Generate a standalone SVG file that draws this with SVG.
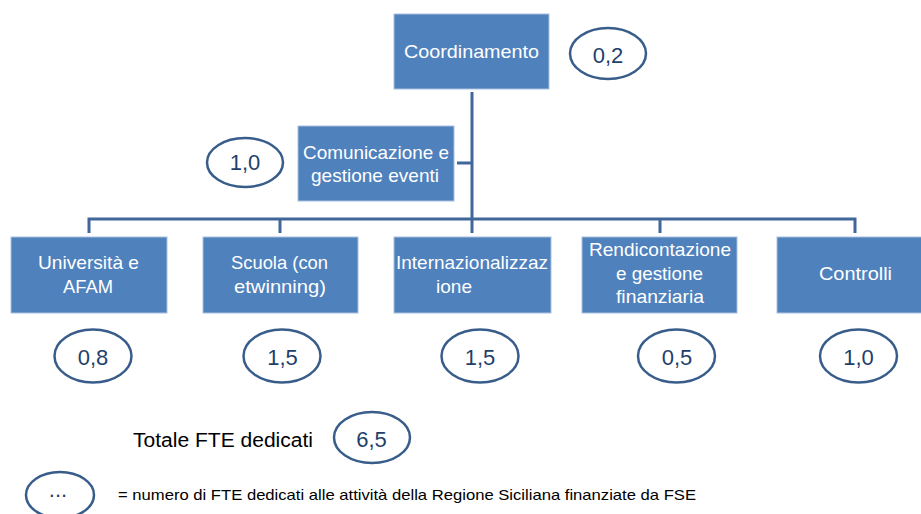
<svg xmlns="http://www.w3.org/2000/svg" width="921" height="514" viewBox="0 0 921 514">
<style>
.box{fill:#4F81BD;stroke:#A9C0DF;stroke-width:1}
.bt{font-family:"Liberation Sans",Arial,sans-serif;font-size:18.5px;fill:#FFFFFF;text-anchor:middle}
.ov{fill:#FFFFFF;stroke:#385D8A;stroke-width:2.5}
.ot{font-family:"Liberation Sans",Arial,sans-serif;font-size:22px;fill:#1F3F6B;text-anchor:middle}
.ln{stroke:#41679A;stroke-width:3;fill:none}
.lt{font-family:"Liberation Sans",Arial,sans-serif;fill:#000000}
</style>
<rect width="921" height="514" fill="#FFFFFF"/>
<g id="connectors">
<path class="ln" d="M472 92 V233"/>
<path class="ln" d="M457 163 H472"/>
<path class="ln" d="M89 233 V219 H855 V233"/>
<path class="ln" d="M280 219 V233"/>
<path class="ln" d="M660 219 V233"/>
</g>
<g id="coordinamento">
<rect class="box" x="394" y="14" width="155" height="75"/>
<text class="bt" x="471.5" y="58" textLength="135" lengthAdjust="spacingAndGlyphs">Coordinamento</text>
<ellipse class="ov" cx="608" cy="53.5" rx="38" ry="25.5"/>
<text class="ot" x="608" y="63">0,2</text>
</g>
<g id="comunicazione">
<rect class="box" x="298" y="126" width="156" height="75"/>
<text class="bt" x="376" y="159" textLength="146" lengthAdjust="spacingAndGlyphs">Comunicazione e</text>
<text class="bt" x="375" y="181.5" textLength="128" lengthAdjust="spacingAndGlyphs">gestione eventi</text>
<ellipse class="ov" cx="245" cy="162.5" rx="38" ry="24.5"/>
<text class="ot" x="245" y="170">1,0</text>
</g>
<g id="universita">
<rect class="box" x="11" y="237" width="156" height="76"/>
<text class="bt" x="88.5" y="269" textLength="101" lengthAdjust="spacingAndGlyphs">Università e</text>
<text class="bt" x="88" y="293" textLength="50" lengthAdjust="spacingAndGlyphs">AFAM</text>
<ellipse class="ov" cx="93" cy="356" rx="38.5" ry="26.5"/>
<text class="ot" x="93" y="365">0,8</text>
</g>
<g id="scuola">
<rect class="box" x="203" y="237" width="155" height="76"/>
<text class="bt" x="279.5" y="269" textLength="97" lengthAdjust="spacingAndGlyphs">Scuola (con</text>
<text class="bt" x="280" y="293" textLength="92" lengthAdjust="spacingAndGlyphs">etwinning)</text>
<ellipse class="ov" cx="282" cy="356" rx="38.5" ry="26.5"/>
<text class="ot" x="282.5" y="365">1,5</text>
</g>
<g id="internazionalizzazione">
<rect class="box" x="394" y="237" width="157" height="76"/>
<text class="bt" x="472" y="269" textLength="152" lengthAdjust="spacingAndGlyphs">Internazionalizzaz</text>
<text class="bt" x="454" y="293" textLength="36" lengthAdjust="spacingAndGlyphs">ione</text>
<ellipse class="ov" cx="480" cy="356" rx="38.5" ry="26.5"/>
<text class="ot" x="480" y="365">1,5</text>
</g>
<g id="rendicontazione">
<rect class="box" x="582" y="237" width="155" height="76"/>
<text class="bt" x="660" y="256" textLength="142" lengthAdjust="spacingAndGlyphs">Rendicontazione</text>
<text class="bt" x="659.5" y="280" textLength="87" lengthAdjust="spacingAndGlyphs">e gestione</text>
<text class="bt" x="660" y="303" textLength="88" lengthAdjust="spacingAndGlyphs">finanziaria</text>
<ellipse class="ov" cx="676.5" cy="356" rx="38.5" ry="26.5"/>
<text class="ot" x="677" y="365">0,5</text>
</g>
<g id="controlli">
<rect class="box" x="777" y="237" width="156" height="76"/>
<text class="bt" x="855.5" y="280" textLength="73" lengthAdjust="spacingAndGlyphs">Controlli</text>
<ellipse class="ov" cx="858.5" cy="356" rx="38.5" ry="26.5"/>
<text class="ot" x="858.5" y="365">1,0</text>
</g>
<g id="totale">
<text class="lt" x="133" y="447" font-size="20" textLength="180" lengthAdjust="spacingAndGlyphs">Totale FTE dedicati</text>
<ellipse class="ov" cx="372" cy="437.5" rx="38" ry="25.5"/>
<text class="ot" x="371.5" y="447">6,5</text>
</g>
<g id="legenda">
<ellipse class="ov" cx="60" cy="495" rx="34" ry="23"/>
<text class="ot" x="58" y="497" font-size="16">...</text>
<text class="lt" x="118" y="500" font-size="14.5" textLength="578" lengthAdjust="spacingAndGlyphs">= numero di FTE dedicati alle attività della Regione Siciliana finanziate da FSE</text>
</g>
</svg>
